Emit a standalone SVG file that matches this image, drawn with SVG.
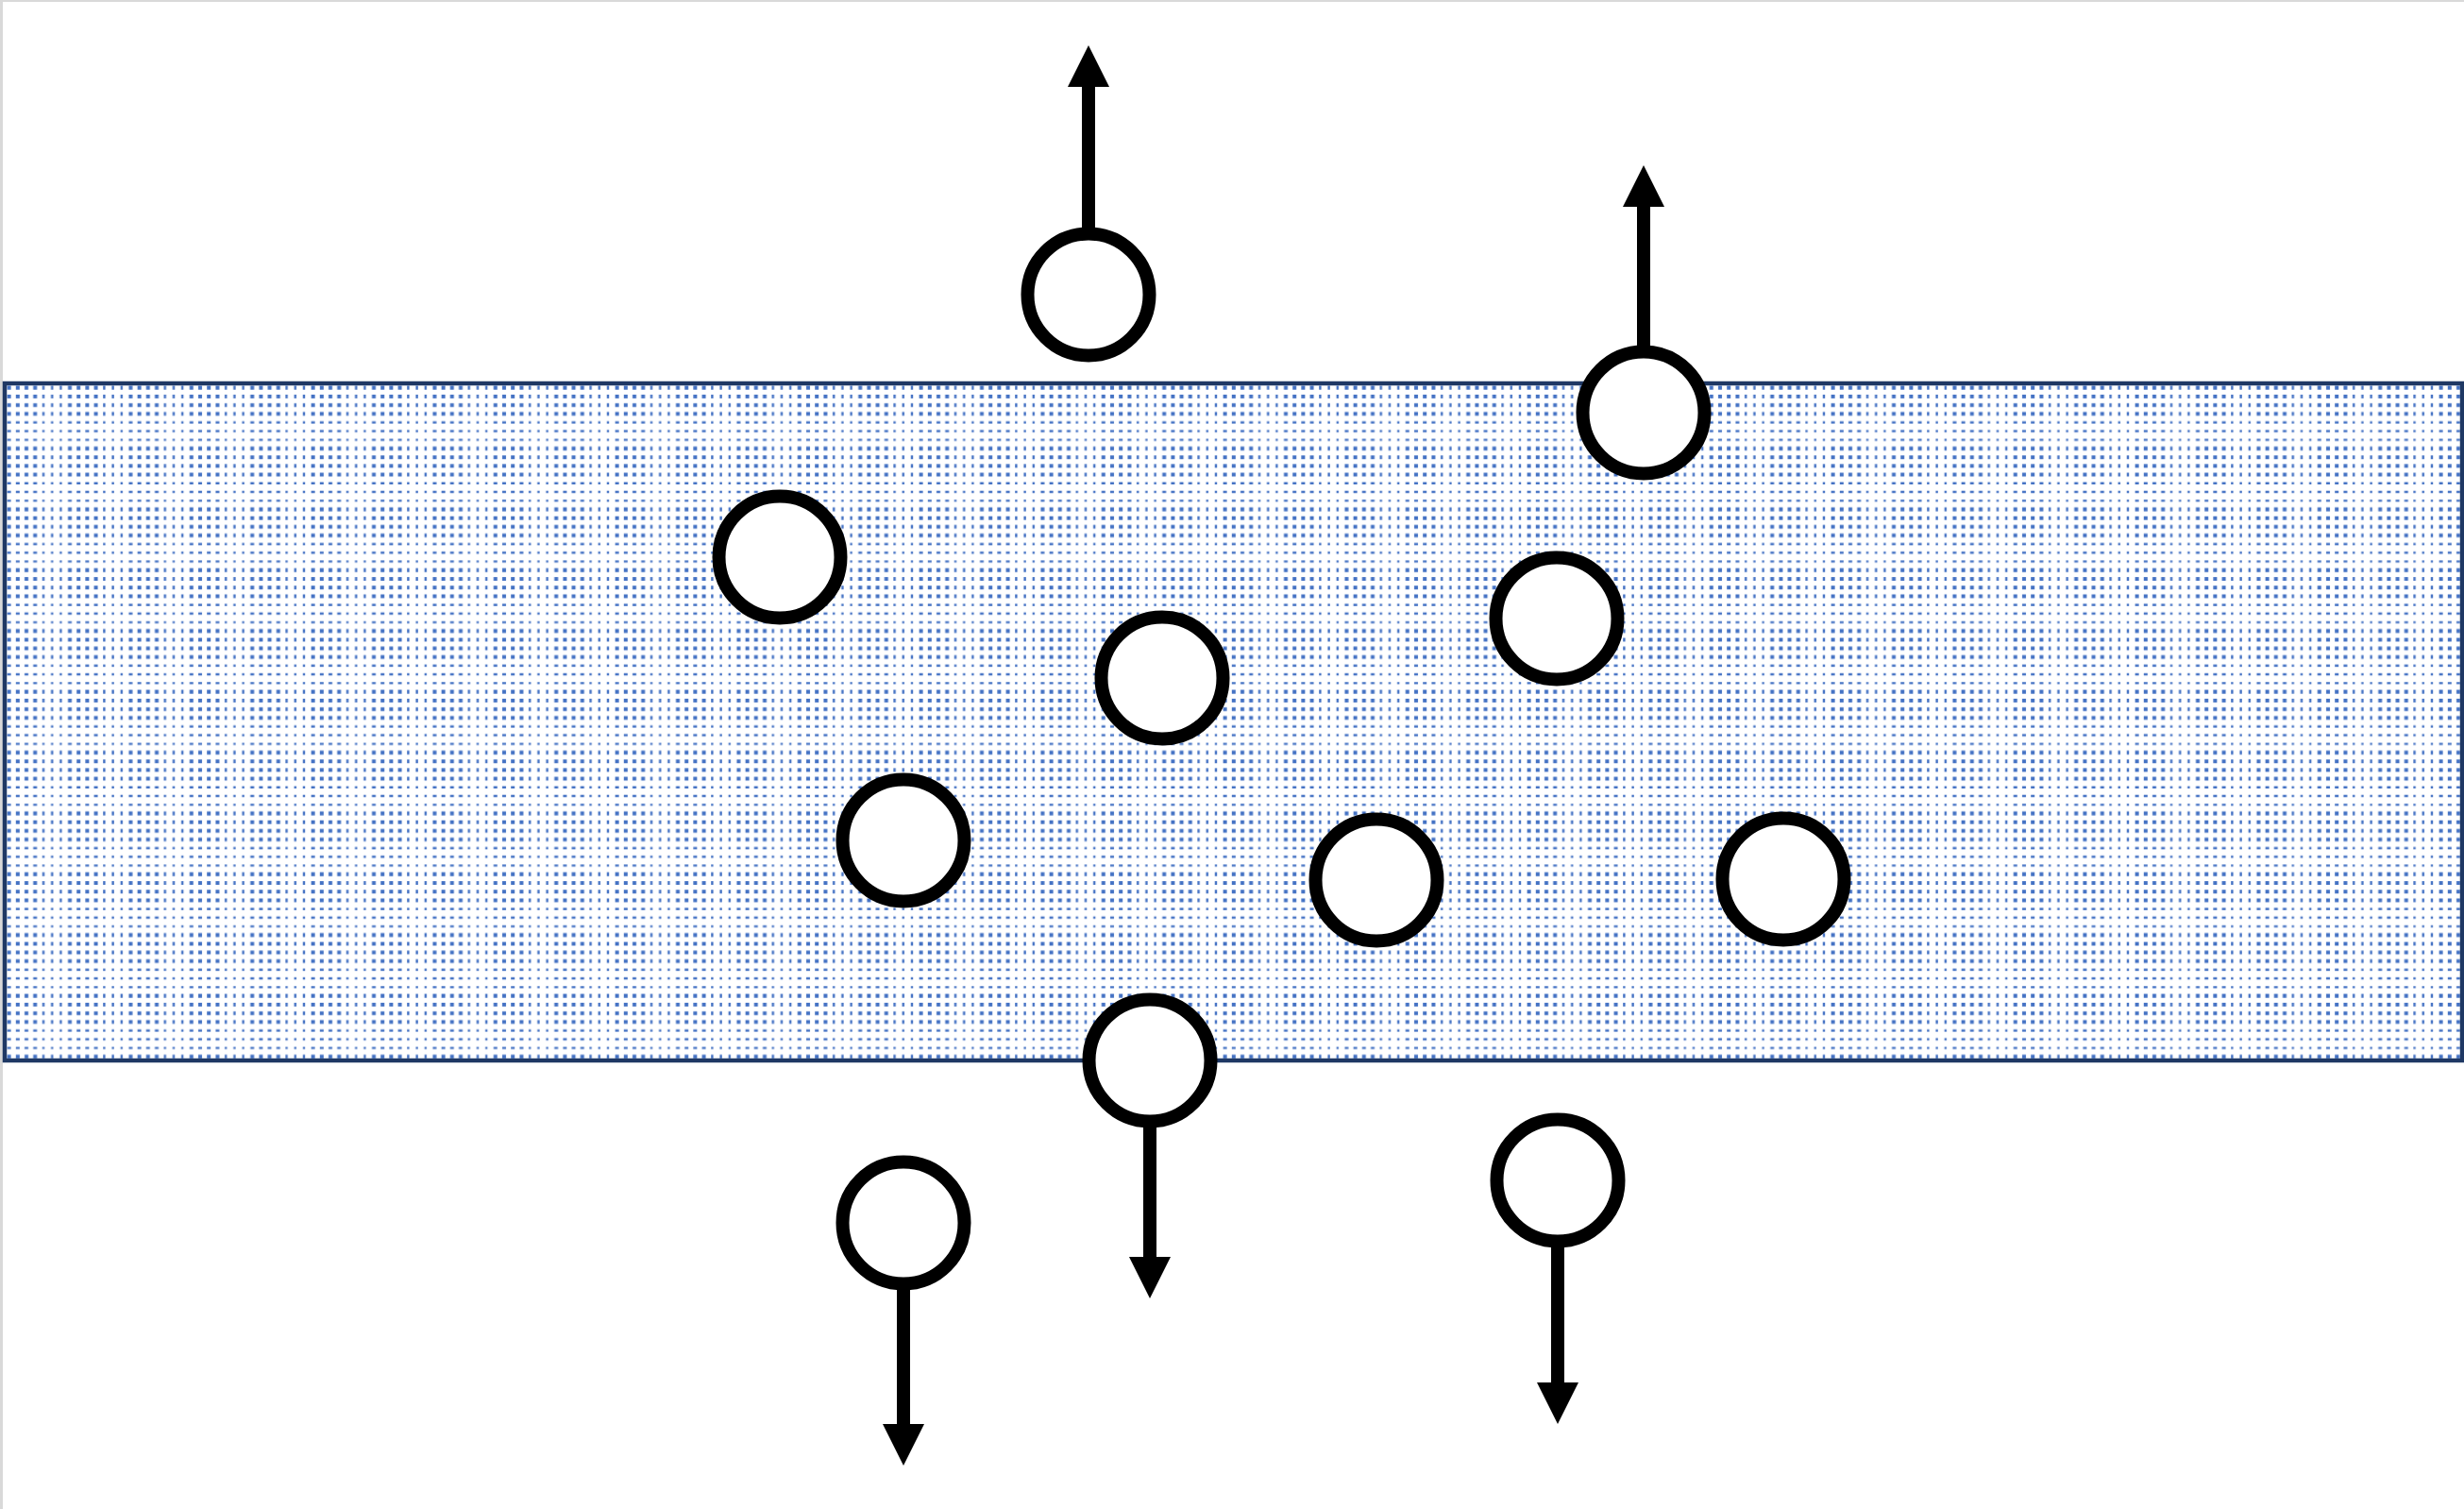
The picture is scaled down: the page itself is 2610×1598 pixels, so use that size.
<svg xmlns="http://www.w3.org/2000/svg" width="2610" height="1598" viewBox="0 0 2610 1598">
<style>
.particle{fill:#ffffff;stroke:#000000;stroke-width:14}
.flow{stroke:#000000;stroke-width:14;fill:none}
.medium{fill:url(#dots);stroke:#1f3864;stroke-width:4.5}
.dotrow{stroke:#4472c4;stroke-dasharray:4 5.2 4 5.2 4 5.2 4 5.6 2.4 6.8 2.4 6.8 2.4 5.6;fill:none}
.big{stroke-width:4}
.small{stroke-width:2.4}
</style>
<defs>
<pattern id="dots" patternUnits="userSpaceOnUse" x="5" y="406" width="64.4" height="64.4">
<rect x="0" y="0" width="64.4" height="64.4" fill="#ffffff"/>
<line class="dotrow big" x1="2.6" y1="4.6" x2="64.4" y2="4.6"/>
<line class="dotrow big" x1="2.6" y1="13.8" x2="64.4" y2="13.8"/>
<line class="dotrow big" x1="2.6" y1="23" x2="64.4" y2="23"/>
<line class="dotrow big" x1="2.6" y1="32.2" x2="64.4" y2="32.2"/>
<line class="dotrow small" x1="2.6" y1="41.4" x2="64.4" y2="41.4"/>
<line class="dotrow small" x1="2.6" y1="50.6" x2="64.4" y2="50.6"/>
<line class="dotrow small" x1="2.6" y1="59.8" x2="64.4" y2="59.8"/>
</pattern>
<marker id="head" markerUnits="userSpaceOnUse" markerWidth="46" markerHeight="46" refX="0" refY="22" orient="auto" viewBox="0 0 46 46" overflow="visible">
<path d="M0,0 L44,22 L0,44 Z" fill="#000000"/>
</marker>
</defs>
<rect x="0" y="0" width="2610" height="1598" fill="#ffffff"/>
<rect x="0" y="0" width="3" height="1598" fill="#d9d9d9"/>
<rect x="0" y="0" width="2610" height="2" fill="#d9d9d9"/>
<g id="medium">
<rect class="medium" x="5" y="406" width="2603" height="717"/>
</g>
<g id="connectors">
<line class="flow" x1="1153" y1="250" x2="1153" y2="92" marker-end="url(#head)"/>
<line class="flow" x1="1741" y1="375" x2="1741" y2="219" marker-end="url(#head)"/>
<line class="flow" x1="1218" y1="1185" x2="1218" y2="1331" marker-end="url(#head)"/>
<line class="flow" x1="957" y1="1357" x2="957" y2="1508" marker-end="url(#head)"/>
<line class="flow" x1="1650" y1="1312" x2="1650" y2="1464" marker-end="url(#head)"/>
</g>
<g id="p1"><circle class="particle" cx="1153" cy="312" r="64.5"/></g>
<g id="p2"><circle class="particle" cx="1741" cy="437" r="64.5"/></g>
<g id="p3"><circle class="particle" cx="826" cy="590" r="64.5"/></g>
<g id="p4"><circle class="particle" cx="1231" cy="718" r="64.5"/></g>
<g id="p5"><circle class="particle" cx="1649" cy="655" r="64.5"/></g>
<g id="p6"><circle class="particle" cx="957" cy="890" r="64.5"/></g>
<g id="p7"><circle class="particle" cx="1458" cy="932" r="64.5"/></g>
<g id="p8"><circle class="particle" cx="1889" cy="931" r="64.5"/></g>
<g id="p9"><circle class="particle" cx="1218" cy="1123" r="64.5"/></g>
<g id="p10"><circle class="particle" cx="957" cy="1295" r="64.5"/></g>
<g id="p11"><circle class="particle" cx="1650" cy="1250" r="64.5"/></g>
</svg>
